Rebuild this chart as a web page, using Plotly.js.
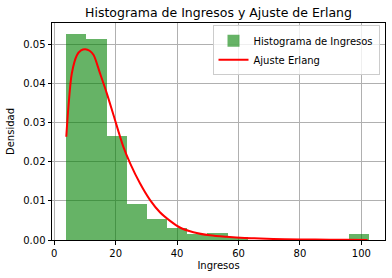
<!DOCTYPE html>
<html>
<head>
<meta charset="utf-8">
<script src="https://cdn.plot.ly/plotly-3.0.1.min.js"></script>
<style>html,body{margin:0;padding:0;background:#fff;}#chart{width:392px;height:278px;}</style>
</head>
<body>
<div id="chart"></div>
<script>
// Histogram bin edges (Ingresos) and densities
const binEdges = [3.9, 10.47, 17.04, 23.61, 30.18, 36.75, 43.32, 49.89, 56.46, 63.03, 69.6, 76.17, 82.74, 89.31, 95.88, 102.45];
const densities = [0.0528, 0.0513, 0.0266, 0.0092, 0.0054, 0.0031, 0.0015, 0.0018, 0.0008, 0, 0, 0, 0, 0, 0.0015];

// Erlang fit curve
const fitX = [3.9, 4.6, 5.7, 7.4, 8.7, 10.1, 11.5, 12.8, 14.9, 17.1, 19.3, 22.5, 24.7, 27.9, 31.2, 34.4, 37.7, 40.9, 45.3, 50.7, 56.1, 62, 67, 75, 85, 95, 102];
const fitY = [0.0264, 0.0341, 0.0426, 0.0473, 0.0485, 0.0488, 0.0484, 0.0473, 0.0426, 0.0375, 0.0319, 0.0238, 0.0196, 0.0145, 0.0102, 0.0071, 0.0049, 0.0032, 0.0020, 0.0012, 0.0008, 0.0005, 0.0004, 0.0002, 0.0001, 0.00005, 0.00003];

const xTicks = [0, 20, 40, 60, 80, 100];
const yTicks = [0, 0.01, 0.02, 0.03, 0.04, 0.05];

const centers = densities.map((_, i) => (binEdges[i] + binEdges[i + 1]) / 2);
const widths = densities.map((_, i) => binEdges[i + 1] - binEdges[i]);

const font = {family: 'DejaVu Sans, sans-serif', size: 10, color: '#000'};

const traces = [
  {type: 'bar', x: centers, y: densities, width: widths, name: 'Histograma de Ingresos',
   marker: {color: 'rgba(0,128,0,0.6)', line: {width: 0}}, hoverinfo: 'skip'},
  {type: 'scatter', mode: 'lines', x: fitX, y: fitY, name: 'Ajuste Erlang',
   line: {color: '#ff0000', width: 2, shape: 'spline', smoothing: 0.8}}
];

const layout = {
  width: 392, height: 278,
  margin: {l: 52, r: 6.5, t: 23, b: 38, pad: 0},
  paper_bgcolor: '#fff', plot_bgcolor: '#fff',
  font: font,
  showlegend: true,
  bargap: 0,
  title: {text: 'Histograma de Ingresos y Ajuste de Erlang', font: {family: 'DejaVu Sans, sans-serif', size: 12.5, color: '#000'}, xref: 'paper', x: 0.5, xanchor: 'center', y: 0.953, yanchor: 'middle'},
  xaxis: {
    range: [-0.75, 107.7], tickvals: xTicks, ticktext: xTicks.map(String),
    showgrid: true, gridcolor: '#b0b0b0', gridwidth: 1,
    showline: true, linecolor: '#000', linewidth: 1, mirror: true,
    ticks: 'outside', ticklen: 3.5, tickcolor: '#000', zeroline: false,
    tickfont: font,
    title: {text: 'Ingresos', font: font, standoff: 4}
  },
  yaxis: {
    range: [0, 0.0555], tickvals: yTicks, ticktext: yTicks.map(v => v.toFixed(2)),
    showgrid: true, gridcolor: '#b0b0b0', gridwidth: 1,
    showline: true, linecolor: '#000', linewidth: 1, mirror: true,
    ticks: 'outside', ticklen: 3.5, tickcolor: '#000', zeroline: false,
    tickfont: font,
    title: {text: 'Densidad', font: font, standoff: 6}
  },
  legend: {
    x: 0.9835, xanchor: 'right', y: 0.99, yanchor: 'top',
    bgcolor: 'rgba(255,255,255,0.8)', bordercolor: '#cccccc', borderwidth: 1,
    font: font, tracegroupgap: 0, itemwidth: 30
  }
};

Plotly.newPlot('chart', traces, layout, {staticPlot: true, displayModeBar: false});
</script>
</body>
</html>
